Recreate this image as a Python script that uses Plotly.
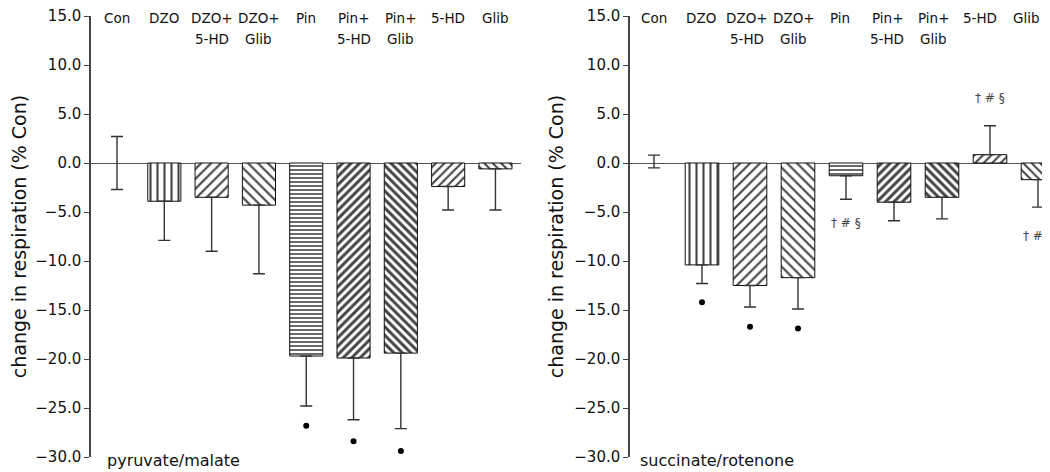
import plotly.graph_objects as go

# ---------------- data ----------------
categories = ["Con", "DZO", "DZO+\n5-HD", "DZO+\nGlib", "Pin", "Pin+\n5-HD", "Pin+\nGlib", "5-HD", "Glib"]

pm_mean = [0.0, -3.9, -3.5, -4.3, -19.7, -19.9, -19.4, -2.4, -0.6]
pm_err = [2.7, 4.0, 5.5, 7.0, 5.1, 6.3, 7.7, 2.4, 4.2]
pm_dot_cats = ["Pin", "Pin+\n5-HD", "Pin+\nGlib"]
pm_dot_vals = [-26.8, -28.4, -29.4]

sr_mean = [0.15, -10.4, -12.5, -11.7, -1.3, -4.0, -3.5, 0.85, -1.7]
sr_err = [0.65, 1.9, 2.2, 3.2, 2.4, 1.9, 2.2, 2.95, 2.8]
sr_dot_cats = ["DZO", "DZO+\n5-HD", "DZO+\nGlib"]
sr_dot_vals = [-14.2, -16.7, -16.9]
sr_mark_cats = ["Pin", "5-HD", "Glib"]
sr_mark_vals = [-6.1, 6.6, -7.4]
sr_mark_text = "\u2020 # \u00a7"

panel_names = ["pyruvate/malate", "succinate/rotenone"]
y_title = "change in respiration (% Con)"
y_ticks = [15, 10, 5, 0, -5, -10, -15, -20, -25, -30]

# ---------------- styles ----------------
FONT = "DejaVu Sans"
OFF = 8  # page body margin in the browser
W, H = 1050 - OFF, 472 - OFF
shapes_ = ["", "|", "/", "\\", "-", "/", "\\", "/", "\\"]
sizes_ = [6, 7, 7, 7, 4, 6, 6, 6, 6]
solid_ = [0.3, 0.3, 0.3, 0.3, 0.4, 0.5, 0.5, 0.35, 0.35]
line_w = [0, 1, 1, 1, 1, 1, 1, 1, 1]
fill_c = ["rgba(0,0,0,0)"] + ["white"] * 8

fig = go.Figure()


def add_panel(means, errs, xa, ya):
    plus = []
    minus = []
    for i, (m, e) in enumerate(zip(means, errs)):
        if i == 0:
            plus.append(e); minus.append(e)
        elif m < 0:
            plus.append(0); minus.append(e)
        else:
            plus.append(e); minus.append(0)
    fig.add_trace(go.Bar(
        x=categories, y=means, width=0.7, xaxis=xa, yaxis=ya,
        marker=dict(color=fill_c,
                    line=dict(color="#111", width=line_w),
                    pattern=dict(shape=shapes_, size=sizes_, solidity=solid_,
                                 fgcolor="#1a1a1a", fgopacity=1, bgcolor="white",
                                 fillmode="overlay")),
        error_y=dict(type="data", symmetric=False, array=plus, arrayminus=minus,
                     color="#333", thickness=1.4, width=6),
        showlegend=False, hoverinfo="skip"))


add_panel(pm_mean, pm_err, "x", "y")
add_panel(sr_mean, sr_err, "x2", "y2")

fig.add_trace(go.Scatter(x=pm_dot_cats, y=pm_dot_vals, mode="markers", xaxis="x", yaxis="y",
                         marker=dict(color="black", size=6), showlegend=False))
fig.add_trace(go.Scatter(x=sr_dot_cats, y=sr_dot_vals, mode="markers", xaxis="x2", yaxis="y2",
                         marker=dict(color="black", size=6), showlegend=False))

annotations = []
for xr, yr, drift in (("x", "y", 0.0), ("x2", "y2", -1.4)):
    for i, c in enumerate(categories):
        lines = c.split("\n")
        for k, ln in enumerate(lines):
            annotations.append(dict(x=c, y=15, xref=xr, yref=yr, text=ln, showarrow=False,
                                    xanchor="center", yanchor="middle",
                                    yshift=-2 - 21 * k, xshift=drift * i,
                                    font=dict(family=FONT, size=13.5, color="#111")))
for c, v in zip(sr_mark_cats, sr_mark_vals):
    annotations.append(dict(x=c, y=v, xref="x2", yref="y2", text=sr_mark_text, showarrow=False,
                            xanchor="center", yanchor="middle",
                            font=dict(family=FONT, size=12, color="#444")))
for name, xr, yr, xp in ((panel_names[0], "x domain", "y domain", 0.033),
                         (panel_names[1], "x2 domain", "y2 domain", 0.019)):
    annotations.append(dict(x=xp, y=-0.009, xref=xr, yref=yr, text=name, showarrow=False,
                            xanchor="left", yanchor="middle",
                            font=dict(family=FONT, size=16, color="#111")))

yaxis_common = dict(range=[-30, 15], tickvals=y_ticks, tickformat=".1f",
                    showline=True, linecolor="#444", linewidth=1.5,
                    ticks="outside", ticklen=5, tickcolor="#444", tickwidth=1.2,
                    ticklabeloverflow="allow",
                    showgrid=False, zeroline=True, zerolinecolor="#555", zerolinewidth=1.3,
                    tickfont=dict(family=FONT, size=15, color="#111"),
                    title=dict(text=y_title, font=dict(family=FONT, size=19, color="#111"), standoff=6))
xaxis_common = dict(type="category", showticklabels=False, showline=False, ticks="",
                    showgrid=False, zeroline=False)

fig.update_layout(
    width=W, height=H,
    margin=dict(l=0, r=0, t=16 - OFF, b=H - (457 - OFF)),
    paper_bgcolor="white", plot_bgcolor="white",
    xaxis=dict(domain=[(91 - OFF) / W, (521 - OFF) / W], range=[-0.55, 8.54], anchor="y", **xaxis_common),
    xaxis2=dict(domain=[(630 - OFF) / W, 1.0], range=[-0.5, 8.25], anchor="y2", **xaxis_common),
    yaxis=dict(anchor="x", **yaxis_common),
    yaxis2=dict(anchor="x2", **yaxis_common),
    annotations=annotations,
)

fig.write_html("out.html")
